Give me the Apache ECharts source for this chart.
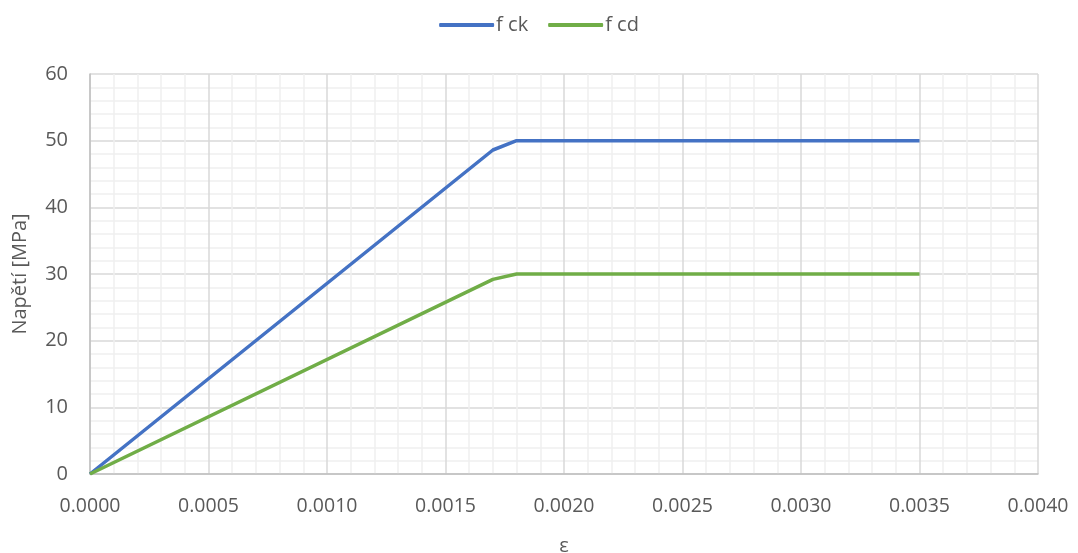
<!DOCTYPE html>
<html>
<head>
<meta charset="utf-8">
<script src="https://cdn.jsdelivr.net/npm/echarts@6/dist/echarts.min.js"></script>
<style>
  html, body { margin: 0; padding: 0; background: #ffffff; }
  #chart { width: 1078px; height: 553px; }
</style>
</head>
<body>
<div id="chart"></div>
<script>
// Strain values (ε) at the curve break points
const strain = [0, 0.0017, 0.0018, 0.0035];
// Stress in MPa: characteristic and design strength curves
const fck = [0, 48.6, 50, 50];
const fcd = [0, 29.2, 30, 30];
const seriesNames = ['f ck', 'f cd'];
const xAxisTitle = 'ε';
const yAxisTitle = 'Napětí [MPa]';

const pairs = (ys) => strain.map((x, i) => [x, ys[i]]);
const font = '"Open Sans", "Noto Sans", sans-serif';
const textColor = '#595959';

const chart = echarts.init(document.getElementById('chart'));
chart.setOption({
  animation: false,
  backgroundColor: '#ffffff',
  textStyle: { fontFamily: font },
  legend: {
    top: 10,
    left: 'center',
    icon: 'roundRect',
    itemWidth: 55,
    itemHeight: 4,
    itemGap: 20,
    textStyle: { fontSize: 20, color: textColor, fontFamily: font, padding: [0, 0, 0, -3] },
    data: seriesNames
  },
  grid: { left: 90, right: 40, top: 74, bottom: 79, outerBoundsMode: 'none' },
  xAxis: {
    type: 'value',
    min: 0,
    max: 0.004,
    interval: 0.0005,
    name: xAxisTitle,
    nameLocation: 'middle',
    nameGap: 62,
    nameTextStyle: { fontSize: 20, color: textColor, fontFamily: font },
    axisLine: { show: true, lineStyle: { color: '#bfbfbf', width: 1.5 } },
    axisTick: { show: false },
    axisLabel: {
      margin: 22,
      fontSize: 19.5,
      color: textColor,
      fontFamily: font,
      formatter: (v) => v.toFixed(4)
    },
    splitLine: { show: true, lineStyle: { color: '#d9d9d9', width: 1.5 } },
    minorTick: { show: false, splitNumber: 5 },
    minorSplitLine: { show: true, lineStyle: { color: '#efefef', width: 1.5 } }
  },
  yAxis: {
    type: 'value',
    min: 0,
    max: 60,
    interval: 10,
    name: yAxisTitle,
    nameLocation: 'middle',
    nameGap: 60,
    nameRotate: 90,
    nameTextStyle: { fontSize: 20, color: textColor, fontFamily: font },
    axisLine: { show: true, lineStyle: { color: '#bfbfbf', width: 1.5 } },
    axisTick: { show: false },
    axisLabel: { margin: 22, fontSize: 20, color: textColor, fontFamily: font },
    splitLine: { show: true, lineStyle: { color: '#d9d9d9', width: 1.5 } },
    minorTick: { show: false, splitNumber: 5 },
    minorSplitLine: { show: true, lineStyle: { color: '#efefef', width: 1.5 } }
  },
  series: [
    {
      name: seriesNames[0],
      type: 'line',
      data: pairs(fck),
      symbol: 'none',
      lineStyle: { color: '#4472c4', width: 3.5 },
      itemStyle: { color: '#4472c4' }
    },
    {
      name: seriesNames[1],
      type: 'line',
      data: pairs(fcd),
      symbol: 'none',
      lineStyle: { color: '#70ad47', width: 3.5 },
      itemStyle: { color: '#70ad47' }
    }
  ]
});
</script>
</body>
</html>
